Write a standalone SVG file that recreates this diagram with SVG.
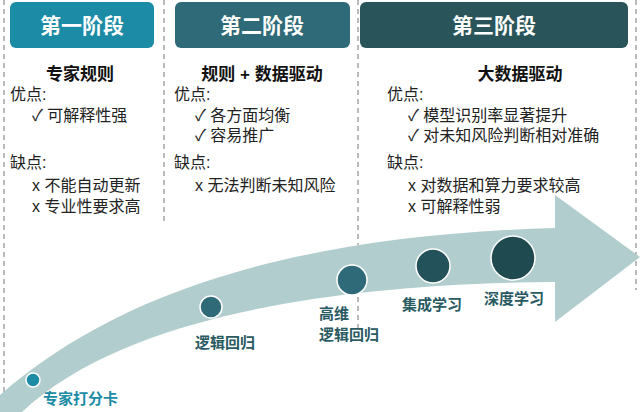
<svg xmlns="http://www.w3.org/2000/svg" width="640" height="412" viewBox="0 0 640 412">
<style>
text{font-family:"Liberation Sans","Noto Sans CJK SC",sans-serif;}
.h{fill:#fff;font-size:21px;font-weight:bold;text-anchor:middle}
.t{fill:#111;font-size:17px;font-weight:bold;text-anchor:middle}
.b{fill:#222;font-size:16px}
.l{fill:#2a5a62;font-size:15px;font-weight:bold}
.d{stroke:#777;stroke-width:1;stroke-dasharray:5,4;fill:none}
circle{stroke:#fff;stroke-width:1.5}
</style>
<rect width="640" height="412" fill="#fff"/>
<g id="dividers">
<line class="d" x1="4" y1="0" x2="4" y2="412"/>
<line class="d" x1="164" y1="0" x2="164" y2="222"/>
<line class="d" x1="358" y1="0" x2="358" y2="330"/>
<line class="d" x1="636" y1="0" x2="636" y2="290"/>
</g>
<path id="arrow" d="M0,395 C120,290 300,235 555,228 L555,195 L640,257 L555,322 L555,282 C320,284 120,320 22,412 L0,412 Z" fill="#b2cdcd"/>
<g id="stage1">
<rect x="10" y="2" width="144" height="46" rx="6" fill="#1b8ba6"/>
<text class="h" x="82" y="33">第一阶段</text>
<text class="t" x="80" y="80">专家规则</text>
<text class="b" x="10" y="100">优点:</text>
<text class="b" x="32" y="121">✓ 可解释性强</text>
<text class="b" x="10" y="168">缺点:</text>
<text class="b" x="32" y="191">x  不能自动更新</text>
<text class="b" x="32" y="212">x  专业性要求高</text>
</g>
<g id="stage2">
<rect x="175" y="2" width="175" height="46" rx="6" fill="#2e6a77"/>
<text class="h" x="262" y="33">第二阶段</text>
<text class="t" x="262" y="80">规则 + 数据驱动</text>
<text class="b" x="174" y="100">优点:</text>
<text class="b" x="195" y="121">✓ 各方面均衡</text>
<text class="b" x="195" y="141">✓ 容易推广</text>
<text class="b" x="174" y="168">缺点:</text>
<text class="b" x="195" y="191">x  无法判断未知风险</text>
</g>
<g id="stage3">
<rect x="360" y="2" width="268" height="46" rx="6" fill="#29555a"/>
<text class="h" x="494" y="33">第三阶段</text>
<text class="t" x="520" y="80">大数据驱动</text>
<text class="b" x="387" y="100">优点:</text>
<text class="b" x="408" y="121">✓ 模型识别率显著提升</text>
<text class="b" x="408" y="141">✓ 对未知风险判断相对准确</text>
<text class="b" x="387" y="168">缺点:</text>
<text class="b" x="408" y="191">x  对数据和算力要求较高</text>
<text class="b" x="408" y="212">x  可解释性弱</text>
</g>
<g id="m1"><circle cx="33" cy="380" r="7" fill="#1b8ba6"/><text class="l" x="43" y="404" style="fill:#1b8ba6">专家打分卡</text></g>
<g id="m2"><circle cx="211" cy="307" r="11" fill="#2e6a77"/><text class="l" x="195" y="348">逻辑回归</text></g>
<g id="m3"><circle cx="352" cy="280" r="15" fill="#2e6a77"/><text class="l" x="319" y="319">高维</text><text class="l" x="319" y="340">逻辑回归</text></g>
<g id="m4"><circle cx="433" cy="266" r="17" fill="#24525a"/><text class="l" x="402" y="310">集成学习</text></g>
<g id="m5"><circle cx="513" cy="258" r="22" fill="#1f4a50"/><text class="l" x="484" y="304">深度学习</text></g>
</svg>
